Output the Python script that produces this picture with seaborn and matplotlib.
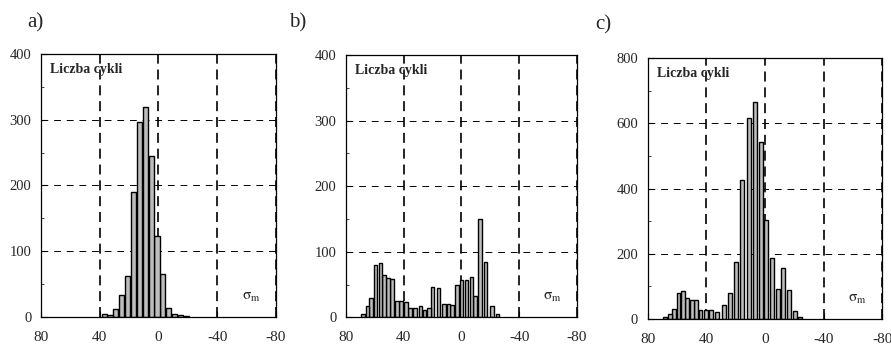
import numpy as np
import seaborn as sns
import matplotlib.pyplot as plt

# histogramy naprezen srednich sigma_m, trzy przypadki a), b), c)

sns.set_style("ticks")
plt.rcParams['font.family'] = ['Liberation Serif', 'DejaVu Serif']
plt.rcParams['mathtext.fontset'] = 'stix'
plt.rcParams['axes.unicode_minus'] = False

panel_labels = ['a)', 'b)', 'c)']
count_label = 'Liczba cykli'
xticks = [80, 40, 0, -40, -80]

sigma_a = [37, 33, 29, 25, 21, 17, 13, 9, 5, 1, -3, -7, -11, -15, -19]
count_a = [5, 3, 12, 33, 63, 190, 297, 320, 245, 123, 65, 13, 5, 3, 2]

sigma_b = [68, 65, 62.5, 59.5, 56, 53.5, 51, 48, 44.5, 42, 38.5, 35.5, 32, 28.5, 25.5,
           22.5, 20, 16, 12, 9, 6.5, 3, 0, -3.5, -7, -9.5, -13, -16.5, -21, -25]
count_b = [5, 18, 30, 80, 83, 65, 60, 58, 25, 25, 24, 15, 14, 17, 11,
           14, 47, 45, 21, 21, 19, 49, 57, 57, 62, 32, 150, 84, 18, 5]

sigma_c = [68, 65, 62, 59, 56, 53, 50, 47, 44, 40.5, 37, 32.5, 28, 24, 20, 15.5,
           11, 7, 3, -1, -5, -9, -12.5, -16.5, -20.5, -24]
count_c = [5, 16, 30, 80, 85, 64, 60, 58, 27, 27, 27, 22, 44, 80, 174, 425,
           617, 665, 543, 305, 187, 93, 158, 90, 25, 5]

yticks_ab = [0, 100, 200, 300, 400]
yticks_c = [0, 200, 400, 600, 800]

panels = [
    (sigma_a, count_a, yticks_ab, 3.5, [0.0460, 0.089, 0.2637, 0.756]),
    (sigma_b, count_b, yticks_ab, 2.5, [0.3883, 0.088, 0.2593, 0.754]),
    (sigma_c, count_c, yticks_c, 2.7, [0.7270, 0.083, 0.2630, 0.750]),
]
label_pos = [(0.040, 0.935), (0.334, 0.935), (0.677, 0.928)]

fig = plt.figure(figsize=(8.91, 3.48), dpi=100)

for (sig, cnt, yt, bar_w, box), lab, lpos in zip(panels, panel_labels, label_pos):
    ax = fig.add_axes(box)
    spacing = np.diff(np.sort(sig)).min()
    sns.barplot(x=sig, y=cnt, native_scale=True, orient='x', errorbar=None,
                width=bar_w / spacing, color='#bdbdbd', saturation=1,
                edgecolor='black', linewidth=1.0, ax=ax)
    ax.set_axisbelow(True)
    ax.grid(axis='x', color='black', lw=1.2, ls=(0, (6, 3.5)))
    ax.grid(axis='y', color='black', lw=0.7, ls=(0, (7, 6)))
    ax.set_xlim(80, -80)
    ax.set_ylim(yt[0], yt[-1])
    ax.set_xticks(xticks)
    ax.set_yticks(yt)
    ax.set_yticks(np.arange(yt[0], yt[-1], (yt[1] - yt[0]) / 2), minor=True)
    ax.tick_params(axis='both', direction='in', length=4, width=0.8, color='black')
    ax.tick_params(axis='y', which='minor', direction='in', length=2, width=0.6)
    ax.tick_params(axis='x', labelsize=11, pad=10)
    ax.tick_params(axis='y', labelsize=10.5, pad=7)
    for s in ax.spines.values():
        s.set_linewidth(0.9)
        s.set_color('black')
    ax.set_xlabel('')
    ax.set_ylabel('')
    ax.text(0.04, 0.965, count_label, transform=ax.transAxes, ha='left', va='top',
            fontsize=10, fontweight='bold')
    ax.text(0.895, 0.075, r'$\mathrm{\sigma}_\mathrm{m}$', transform=ax.transAxes,
            ha='center', va='center', fontsize=11)
    fig.text(lpos[0], lpos[1], lab, ha='center', va='center', fontsize=15)

fig.savefig('out.png', dpi=100)
